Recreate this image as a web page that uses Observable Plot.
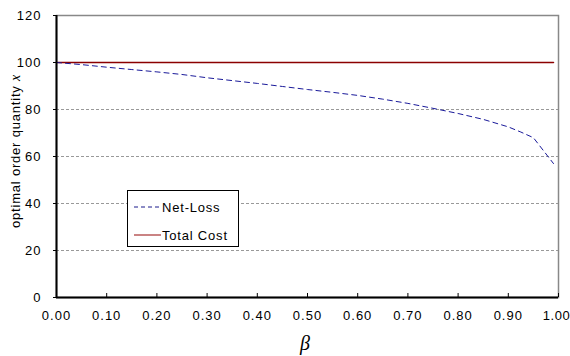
<!DOCTYPE html>
<html><head><meta charset="utf-8">
<script src="https://cdn.jsdelivr.net/npm/d3@7"></script>
<script src="https://cdn.jsdelivr.net/npm/@observablehq/plot@0.6"></script>
<style>
body{margin:0;background:#fff;}
#wrap{position:relative;width:570px;height:356px;font-family:"Liberation Sans",Arial,sans-serif;}
#legend{position:absolute;left:127px;top:190px;width:112px;height:57px;border:1px solid #000;background:#fff;box-sizing:border-box;}
</style>
</head><body>
<div id="wrap"><div id="chart"></div>
<div id="legend"><svg width="112" height="57" style="display:block">
<line x1="6" x2="33" y1="16" y2="16" stroke="#1a1a8c" stroke-dasharray="4,3" stroke-width="1"/>
<text x="34" y="20.5" font-size="13" letter-spacing="0.8" fill="#000" font-family="Liberation Sans, Arial, sans-serif">Net-Loss</text>
<line x1="6" x2="33" y1="44" y2="44" stroke="#b85a5a" stroke-width="1.5"/>
<text x="34" y="48.5" font-size="13" letter-spacing="0.8" fill="#000" font-family="Liberation Sans, Arial, sans-serif">Total Cost</text>
</svg></div>
</div>
<script>
const beta = [0, 0.05, 0.10, 0.15, 0.20, 0.25, 0.30, 0.35, 0.40, 0.45, 0.50, 0.55, 0.60, 0.65, 0.70, 0.75, 0.80, 0.85, 0.90, 0.925, 0.95, 0.97, 0.99];
const netLoss = [100, 99.1, 98.0, 97.0, 96.0, 94.9, 93.5, 92.3, 91.1, 89.8, 88.5, 87.3, 86.0, 84.4, 82.6, 80.5, 78.3, 75.8, 72.6, 70.4, 68.0, 62.5, 57.0];
const totalCostBeta = [0, 0.99];
const totalCost = [100, 100];
const xTicks = [0, 0.1, 0.2, 0.3, 0.4, 0.5, 0.6, 0.7, 0.8, 0.9, 1.0];
const yTicks = [0, 20, 40, 60, 80, 100, 120];
const gridY = [20, 40, 60, 80];
const yLabel = "optimal order quantity ";
const yLabelVar = "x";
const xLabel = "β";

const nl = beta.map((b, i) => ({b, v: netLoss[i]}));
const tc = totalCostBeta.map((b, i) => ({b, v: totalCost[i]}));

const chart = Plot.plot({
  width: 570, height: 356,
  marginLeft: 56, marginRight: 12, marginTop: 15, marginBottom: 59,
  style: {fontFamily: "Liberation Sans, Arial, sans-serif", fontSize: "13px", color: "#000", background: "#fff"},
  x: {domain: [0, 1]},
  y: {domain: [0, 120]},
  marks: [
    Plot.ruleY(gridY, {stroke: "#999", strokeDasharray: "3,2", strokeWidth: 1}),
    Plot.frame({stroke: "#888", strokeWidth: 1.5}),
    Plot.line(tc, {x: "b", y: "v", stroke: "#8b0000", strokeWidth: 1.5}),
    Plot.line(nl, {x: "b", y: "v", stroke: "#1a1a9a", strokeWidth: 1, strokeDasharray: "5,4"}),
    Plot.ruleY([0], {stroke: "#000", strokeWidth: 2}),
    Plot.ruleX([0], {stroke: "#000", strokeWidth: 2}),
    Plot.axisY({ticks: yTicks, tickSize: 3, tickPadding: 12, tickFormat: d => String(d), label: null, fontSize: 13}),
    Plot.axisX({ticks: xTicks, tickSize: -4, tickPadding: 17, tickFormat: d => d.toFixed(2), label: null, fontSize: 13})
  ]
});
chart.querySelectorAll('[aria-label="x-axis tick label"] text, [aria-label="y-axis tick label"] text').forEach(t => t.setAttribute("letter-spacing", "1"));
const xl = chart.querySelectorAll('[aria-label="x-axis tick label"] text');
if (xl.length) { const last = xl[xl.length - 1]; last.setAttribute("letter-spacing", "0.6"); last.setAttribute("dx", "-2"); }
const svg = d3.select(chart);
const yl = svg.append("text")
  .attr("transform", "translate(20,151) rotate(-90)")
  .attr("text-anchor", "middle")
  .attr("font-size", 13)
  .attr("letter-spacing", 0.8)
  .attr("fill", "#000");
yl.append("tspan").text(yLabel);
yl.append("tspan").attr("font-family", "Liberation Serif, serif").attr("font-style", "italic").attr("font-size", 14).text(yLabelVar);
svg.append("text")
  .attr("x", 305).attr("y", 350)
  .attr("text-anchor", "middle")
  .attr("font-family", "Liberation Serif, serif")
  .attr("font-style", "italic")
  .attr("font-size", 20)
  .attr("fill", "#000")
  .text(xLabel);
document.getElementById("chart").appendChild(chart);
</script>
</body></html>
